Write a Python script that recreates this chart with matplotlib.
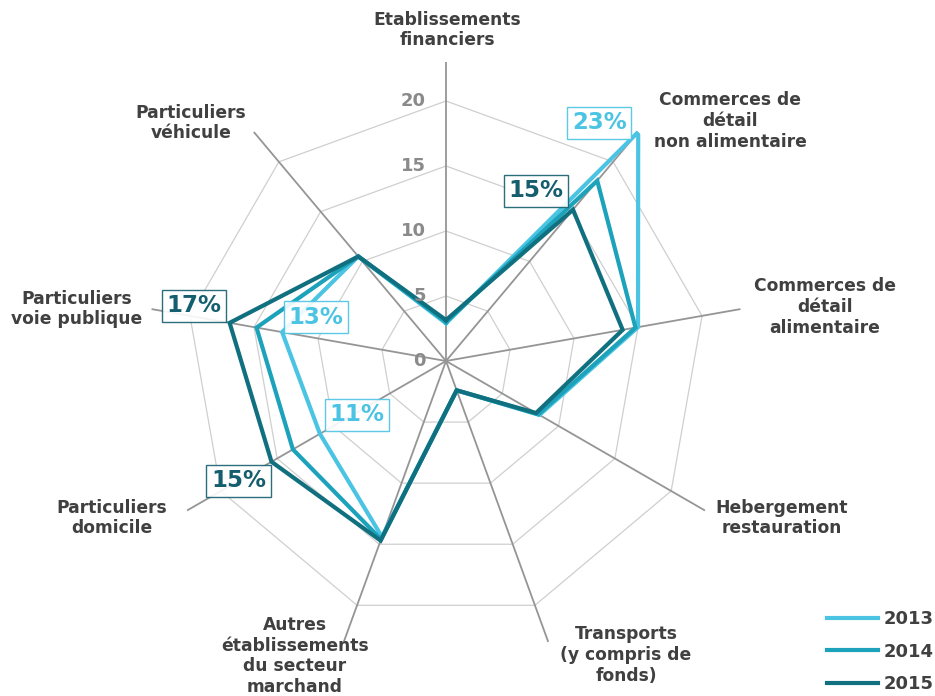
import numpy as np
import matplotlib
matplotlib.use("Agg")
from matplotlib import pyplot as plt

categories = [
    "Etablissements\nfinanciers",
    "Commerces de\ndétail\nnon alimentaire",
    "Commerces de\ndétail\nalimentaire",
    "Hebergement\nrestauration",
    "Transports\n(y compris de\nfonds)",
    "Autres\nétablissements\ndu secteur\nmarchand",
    "Particuliers\ndomicile",
    "Particuliers\nvoie publique",
    "Particuliers\nvéhicule",
]
years = ["2013", "2014", "2015"]
v2013 = [2.9, 23.0, 15.0, 8.3, 2.4, 14.4, 11.2, 12.8, 10.5]
v2014 = [3.0, 18.1, 14.8, 8.2, 2.4, 14.6, 13.6, 14.8, 10.5]
v2015 = [3.15, 15.2, 13.8, 8.0, 2.4, 14.7, 15.5, 16.9, 10.5]
series = [v2013, v2014, v2015]
colors = ["#4bc4e3", "#1ca2bb", "#11707f"]
label_colors = ["#4bc4e3", "#1ca2bb", "#155e6e"]
rticks = [0, 5, 10, 15, 20]
rmax = 23

# data labels: (series index, category index, text, offset in pixels)
data_labels = [
    (0, 1, "23%", (-39, 9)),
    (2, 1, "15%", (-37, 19)),
    (2, 7, "17%", (-36, 17)),
    (0, 7, "13%", (34, 15)),
    (0, 6, "11%", (37, 19)),
    (2, 6, "15%", (-33, -19)),
]

# axis label positions (pixels from top-left)
label_pos = [(447, 30), (730, 121), (825, 307), (782, 518), (626, 655),
             (295, 656), (112, 518), (77, 309), (191, 123)]

W, H = 935, 696
fig = plt.figure(figsize=(W / 100, H / 100), dpi=100)
cx, cy, rpx = 446, 361, 299
ax = fig.add_axes([(cx - rpx) / W, (H - cy - rpx) / H, 2 * rpx / W, 2 * rpx / H], polar=True)
ax.set_theta_offset(np.pi / 2)
ax.set_theta_direction(-1)
ax.set_ylim(0, rmax)
ax.grid(False)
ax.spines["polar"].set_visible(False)
ax.set_xticks([])
ax.set_yticks([])

n = len(categories)
theta = np.arange(n) * 2 * np.pi / n
theta_c = np.append(theta, theta[0])

for r in rticks[1:]:
    ax.plot(theta_c, [r] * (n + 1), color="#cfcfcf", lw=0.9, zorder=1)
for t in theta:
    ax.plot([t, t], [0, rmax], color="#959595", lw=1.3, zorder=2)

for vals, c, y in zip(series, colors, years):
    ax.plot(theta_c, vals + vals[:1], color=c, lw=3.0, label=y, zorder=3,
            solid_joinstyle="miter")

for r in rticks:
    ax.annotate(str(r), (0, r), xytext=(-20, 0), textcoords="offset pixels",
                ha="right", va="center", fontsize=13, fontweight="bold", color="#8a8a8a")

for si, ci, txt, off in data_labels:
    col = label_colors[si]
    ax.annotate(txt, (theta[ci], series[si][ci]), xytext=off, textcoords="offset pixels",
                ha="center", va="center", fontsize=16.5, fontweight="bold", color=col, zorder=5,
                bbox=dict(boxstyle="square,pad=0.2", fc="white", ec=col, lw=1.0, alpha=0.9))

for lab, (x, y) in zip(categories, label_pos):
    fig.text(x / W, 1 - y / H, lab, ha="center", va="center", fontsize=12.3,
             fontweight="bold", color="#404040", linespacing=1.2)

leg = fig.legend(loc="lower right", bbox_to_anchor=(1.006, -0.006), frameon=False,
                 handlelength=2.8, handletextpad=0.3, labelspacing=0.8,
                 borderaxespad=0.2, borderpad=0.2,
                 prop=dict(size=13, weight="bold"))
for t in leg.get_texts():
    t.set_color("#404040")

fig.savefig("out.png", dpi=100)
